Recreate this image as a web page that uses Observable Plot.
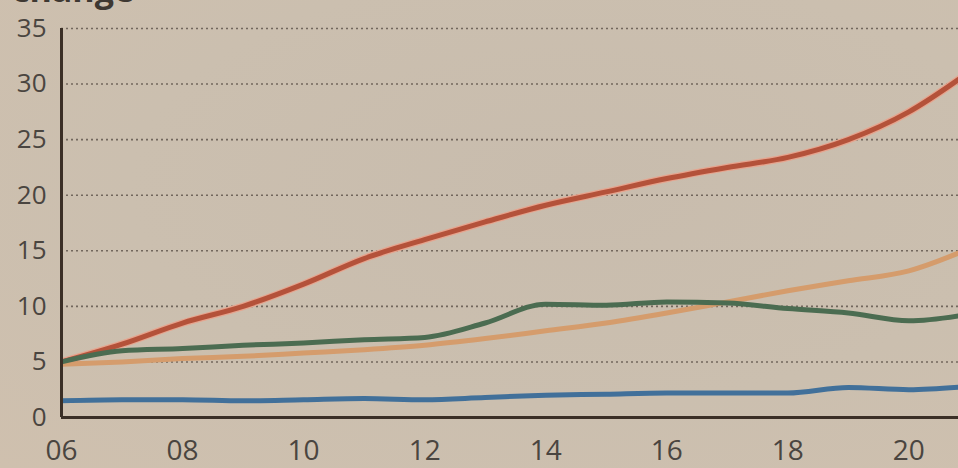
<!DOCTYPE html>
<html>
<head>
<meta charset="utf-8">
<script src="https://cdn.jsdelivr.net/npm/d3@7"></script>
<script src="https://cdn.jsdelivr.net/npm/@observablehq/plot@0.6"></script>
<style>
  html, body { margin: 0; padding: 0; }
  body { width: 958px; height: 468px; overflow: hidden; position: relative;
         background: radial-gradient(ellipse at 60% 40%, #c8bcad 0%, #cbbfaf 55%, #cfc0ae 100%); }
  #title { position: absolute; left: 12px; top: -34px; font: bold 34px "Open Sans", sans-serif; color: #3e3832; }
  #chart { position: absolute; left: 0; top: 0; }
</style>
</head>
<body>
<div id="title">change</div>
<div id="chart"></div>
<script>
const years = [2006,2007,2008,2009,2010,2011,2012,2013,2014,2015,2016,2017,2018,2019,2020,2021];
const red    = [5.0,6.6,8.5,10.0,12.0,14.3,16.0,17.6,19.1,20.3,21.5,22.5,23.4,25.0,27.5,31.1];
const orange = [4.8,5.0,5.3,5.5,5.8,6.1,6.5,7.1,7.8,8.5,9.4,10.4,11.4,12.3,13.2,15.2];
const green  = [5.0,6.0,6.2,6.5,6.7,7.0,7.2,8.5,10.2,10.1,10.4,10.3,9.8,9.4,8.7,9.3];
const blue   = [1.5,1.6,1.6,1.5,1.6,1.7,1.6,1.8,2.0,2.1,2.2,2.2,2.2,2.7,2.5,2.8];
const seriesNames = ["red","orange","green","blue"];
const seriesColors = {red:"#b4523a", orange:"#d59c6c", green:"#4b6c51", blue:"#41709a"};
const xTickYears = [2006,2008,2010,2012,2014,2016,2018,2020];
const xTickLabels = ["06","08","10","12","14","16","18","20"];
const yTicks = [0,5,10,15,20,25,30,35];

const seriesValues = {red, orange, green, blue};
const data = seriesNames.flatMap(s => years.map((yr,i) => ({series:s, year:yr, value:seriesValues[s][i]})));

const plot = Plot.plot({
  width: 958, height: 468,
  marginTop: 28, marginBottom: 51, marginLeft: 61, marginRight: 0,
  style: {background: "transparent", fontFamily: "'Open Sans', sans-serif", fontSize: "26px", color: "#4a4540"},
  x: {domain: [2006, 2020.82], label: null},
  y: {domain: [0, 35], label: null},
  marks: [
    Plot.gridY(yTicks.filter(d => d > 0), {stroke: "#544a42", strokeOpacity: 0.75, strokeWidth: 1.6, strokeDasharray: "2,3"}),
    Plot.line(data.filter(d => d.series === "red"), {x: "year", y: "value", stroke: "#e6a48e", strokeWidth: 7.5, curve: "monotone-x", clip: true}),
    ...seriesNames.map(s => Plot.line(data.filter(d => d.series === s), {x: "year", y: "value", stroke: seriesColors[s], strokeWidth: 5, curve: "monotone-x", clip: true})),
    Plot.ruleX([2006], {y1: 0, y2: 35, stroke: "#3b2f26", strokeWidth: 3}),
    Plot.ruleY([0], {stroke: "#3b2f26", strokeWidth: 3}),
    Plot.axisX(xTickYears, {tickSize: 0, tickPadding: 23, tickFormat: d => xTickLabels[xTickYears.indexOf(d)], fill: "#4a4540", fontSize: 28, label: null}),
    Plot.axisY(yTicks, {tickSize: 0, tickPadding: 15, fill: "#4a4540", fontSize: 26, label: null})
  ]
});
document.getElementById("chart").appendChild(plot);
</script>
</body>
</html>
